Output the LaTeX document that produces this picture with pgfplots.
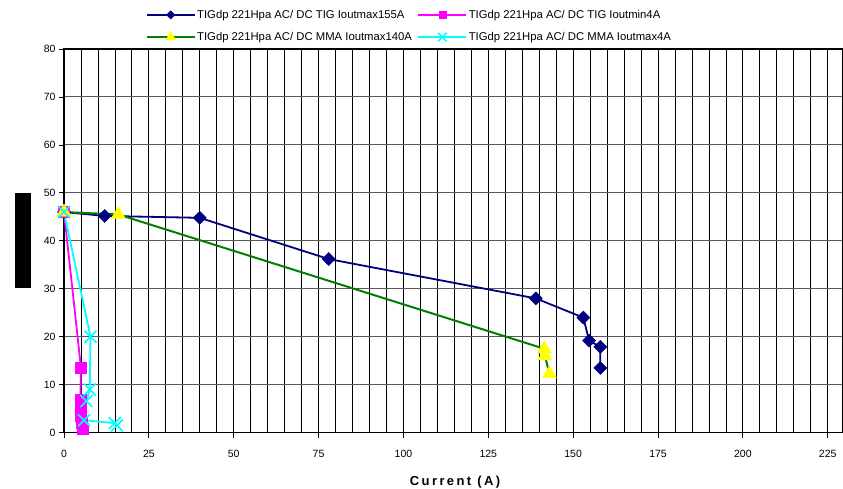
\documentclass[border=0pt]{standalone}
\usepackage{fontspec}
\setmainfont{Liberation Sans}
\usepackage{pgfplots}
\pgfplotsset{compat=1.18}
\definecolor{navyc}{RGB}{0,0,128}
\definecolor{magc}{RGB}{255,0,255}
\definecolor{grnc}{RGB}{0,128,0}
\definecolor{yelc}{RGB}{255,255,0}
\definecolor{cyac}{RGB}{0,255,255}
\begin{document}
\begin{tikzpicture}[x=1pt,y=1pt]
\useasboundingbox (0,0) rectangle (843,489);
\fill[black] (15,201) rectangle (31,296);
\begin{axis}[
  at={(64pt,56.3pt)}, anchor=south west,
  scale only axis, width=779pt, height=383.7pt,
  xmin=0, xmax=229.5, ymin=0, ymax=80,
  xtick={0,25,...,225}, ytick={0,10,...,80},
  minor xtick={5,10,...,225},
  xmajorgrids, xminorgrids, ymajorgrids,
  major x grid style={black, line width=0.8pt},
  minor x grid style={black, line width=0.8pt},
  major y grid style={black!65, line width=1pt},
  minor tick length=0pt,
  axis line style={black, line width=1.3pt},
  tick style={black, line width=0.8pt},
  tick align=outside, major tick length=5pt,
  xtick pos=bottom, ytick pos=left,
  ticklabel style={font=\fontsize{10.5}{12}\selectfont},
  xticklabel style={yshift=-9pt},
  /pgf/number format/assume math mode=true,
  xlabel={\addfontfeature{LetterSpace=18.5}\bfseries Current (A)},
  xlabel style={at={(axis description cs:0.502,-0.128)}, anchor=center, font=\fontsize{13}{15}\selectfont},
  legend columns=2,
  legend cell align=left,
  legend image code/.code={\draw[mark repeat=2,mark phase=2,#1] plot coordinates {(0pt,0pt) (24pt,0pt) (48pt,0pt)};},
  legend style={at={(axis description cs:0.1046,1.106)}, anchor=north west, draw=none, fill=none,
     inner sep=0pt, row sep=9.5pt, font=\fontsize{11.3}{13}\selectfont,
     nodes={inner sep=1.5pt},
     /tikz/every even column/.append style={column sep=4pt}},
]
\addplot[navyc, line width=1.8pt, mark=square*, mark size=4.6pt, mark options={rotate=45, fill=navyc, draw=navyc, line width=0.5pt}, legend image post style={mark size=2.9pt}]
coordinates {(0,46) (12,45.2) (40,44.8) (78,36.2) (139,28) (153,24) (154.7,19.2) (158,17.9) (158,13.5)};
\addlegendentry{TIGdp 221Hpa AC/ DC TIG Ioutmax155A}
\addplot[magc, line width=1.8pt, mark=square*, mark size=5.5pt, mark options={fill=magc, draw=magc, line width=0.5pt}, legend image post style={mark size=3.5pt}]
coordinates {(0,46) (5,13.5) (4.8,6.8) (4.8,5.2) (5,3.5) (5.2,2) (5.6,0.8)};
\addlegendentry{TIGdp 221Hpa AC/ DC TIG Ioutmin4A}
\addplot[grnc, line width=2pt, mark=triangle*, mark size=8pt, mark options={fill=yelc, draw=yelc, line width=0.5pt}, legend image post style={mark size=5.5pt}]
coordinates {(0,46) (16,45.5) (141.5,17.5) (141.7,16) (143,12.3)};
\addlegendentry{TIGdp 221Hpa AC/ DC MMA Ioutmax140A}
\addplot[cyac, line width=1.8pt, mark=x, mark size=8.5pt, mark options={draw=cyac, line width=1.6pt}, legend image post style={mark size=6pt}]
coordinates {(0,46) (7.8,20) (7.6,9) (6.6,6.6) (5.9,2.6) (15,2.0) (15.6,1.5)};
\addlegendentry{TIGdp 221Hpa AC/ DC MMA Ioutmax4A}
\end{axis}
\end{tikzpicture}
\end{document}
